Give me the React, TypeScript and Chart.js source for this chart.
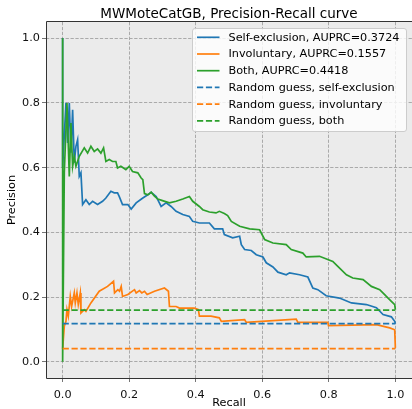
import React, { useEffect, useRef } from "react";
import { Chart, registerables } from "chart.js";

Chart.register(...registerables);

// ---------- data ----------
const recallSelf = [0, 0, 0.01, 0.015, 0.02, 0.025, 0.03, 0.035, 0.04, 0.045, 0.05, 0.055, 0.06, 0.07, 0.08, 0.09, 0.105, 0.12, 0.13, 0.145, 0.155, 0.165, 0.17, 0.18, 0.196, 0.206, 0.221, 0.241, 0.256, 0.266, 0.281, 0.296, 0.311, 0.326, 0.341, 0.361, 0.381, 0.391, 0.411, 0.441, 0.456, 0.481, 0.486, 0.511, 0.532, 0.537, 0.547, 0.567, 0.582, 0.602, 0.612, 0.632, 0.647, 0.672, 0.682, 0.712, 0.737, 0.752, 0.767, 0.792, 0.832, 0.868, 0.913, 0.943, 0.963, 0.988, 0.998, 1.0];
const precisionSelf = [1.0, 0.6, 0.8, 0.676, 0.8, 0.646, 0.779, 0.615, 0.666, 0.686, 0.573, 0.584, 0.486, 0.501, 0.486, 0.496, 0.486, 0.496, 0.506, 0.527, 0.522, 0.522, 0.511, 0.486, 0.486, 0.472, 0.491, 0.506, 0.516, 0.524, 0.511, 0.48, 0.491, 0.48, 0.465, 0.455, 0.449, 0.434, 0.429, 0.429, 0.411, 0.411, 0.393, 0.383, 0.388, 0.362, 0.347, 0.344, 0.331, 0.324, 0.306, 0.293, 0.277, 0.269, 0.275, 0.269, 0.262, 0.228, 0.223, 0.204, 0.197, 0.182, 0.177, 0.167, 0.146, 0.139, 0.125, 0.118];

const recallInvol = [0, 0.005, 0.01, 0.013, 0.017, 0.023, 0.027, 0.035, 0.038, 0.043, 0.047, 0.053, 0.055, 0.065, 0.07, 0.085, 0.11, 0.135, 0.153, 0.156, 0.166, 0.171, 0.176, 0.18, 0.196, 0.216, 0.221, 0.231, 0.238, 0.246, 0.254, 0.276, 0.306, 0.318, 0.321, 0.341, 0.351, 0.396, 0.408, 0.411, 0.446, 0.471, 0.477, 0.547, 0.552, 0.702, 0.707, 0.797, 0.799, 0.943, 0.983, 0.998, 1.0];
const precisionInvol = [0.04, 0.11, 0.125, 0.161, 0.141, 0.202, 0.171, 0.213, 0.182, 0.213, 0.177, 0.213, 0.151, 0.161, 0.156, 0.182, 0.218, 0.233, 0.249, 0.213, 0.223, 0.218, 0.233, 0.202, 0.208, 0.223, 0.213, 0.22, 0.213, 0.218, 0.208, 0.218, 0.228, 0.218, 0.171, 0.171, 0.166, 0.166, 0.161, 0.141, 0.141, 0.136, 0.125, 0.13, 0.122, 0.132, 0.122, 0.122, 0.112, 0.115, 0.105, 0.099, 0.043];

const recallBoth = [0, 0, 0.005, 0.013, 0.02, 0.025, 0.03, 0.035, 0.04, 0.05, 0.065, 0.075, 0.085, 0.095, 0.105, 0.115, 0.123, 0.13, 0.14, 0.15, 0.16, 0.165, 0.175, 0.19, 0.2, 0.21, 0.226, 0.236, 0.241, 0.246, 0.256, 0.266, 0.276, 0.286, 0.3, 0.321, 0.341, 0.361, 0.381, 0.391, 0.411, 0.421, 0.441, 0.461, 0.471, 0.486, 0.496, 0.507, 0.532, 0.562, 0.592, 0.602, 0.607, 0.632, 0.672, 0.687, 0.722, 0.732, 0.772, 0.812, 0.827, 0.853, 0.872, 0.903, 0.928, 0.953, 0.973, 0.988, 0.998, 1.0];
const precisionBoth = [1.0, 0.0, 0.584, 0.8, 0.573, 0.738, 0.604, 0.635, 0.604, 0.635, 0.661, 0.645, 0.666, 0.65, 0.658, 0.645, 0.661, 0.619, 0.625, 0.619, 0.619, 0.599, 0.604, 0.594, 0.604, 0.588, 0.584, 0.568, 0.563, 0.52, 0.516, 0.524, 0.512, 0.503, 0.498, 0.491, 0.496, 0.503, 0.511, 0.496, 0.48, 0.47, 0.463, 0.46, 0.465, 0.458, 0.452, 0.434, 0.419, 0.411, 0.408, 0.388, 0.378, 0.367, 0.362, 0.347, 0.336, 0.324, 0.326, 0.31, 0.295, 0.269, 0.259, 0.254, 0.233, 0.223, 0.202, 0.187, 0.177, 0.161];

const baselineSelf = 0.118;
const baselineInvol = 0.041;
const baselineBoth = 0.16;

const seriesLabels = [
  "Self-exclusion, AUPRC=0.3724",
  "Involuntary, AUPRC=0.1557",
  "Both, AUPRC=0.4418",
  "Random guess, self-exclusion",
  "Random guess, involuntary",
  "Random guess, both",
];
const seriesColors = ["#1f77b4", "#ff7f0e", "#2ca02c", "#1f77b4", "#ff7f0e", "#2ca02c"];
const seriesDashed = [false, false, false, true, true, true];

const xTicks = [0, 0.2, 0.4, 0.6, 0.8, 1.0];
const yTicks = [0, 0.2, 0.4, 0.6, 0.8, 1.0];

const titleText = "MWMoteCatGB, Precision-Recall curve";
const xTitle = "Recall";
const yTitle = "Precision";

const FONT = '"DejaVu Sans", sans-serif';
const LW = 1.7;
const DASH = [6.2, 2.7];

const decorPlugin = {
  id: "decor",
  beforeDraw(chart: any) {
    const { ctx, chartArea: a } = chart;
    ctx.save();
    ctx.fillStyle = "#ffffff";
    ctx.fillRect(0, 0, chart.width, chart.height);
    ctx.fillStyle = "#ebebeb";
    ctx.fillRect(a.left, a.top, a.right - a.left, a.bottom - a.top);
    ctx.restore();
  },
  afterDraw(chart: any) {
    const { ctx, chartArea: a } = chart;
    ctx.save();
    // frame
    ctx.strokeStyle = "#333333";
    ctx.lineWidth = 1;
    ctx.beginPath();
    ctx.moveTo(a.left + 0.5, a.top - 0.5);
    ctx.lineTo(a.right + 1, a.top - 0.5);
    ctx.moveTo(a.left + 0.5, a.top - 0.5);
    ctx.lineTo(a.left + 0.5, a.bottom + 0.5);
    ctx.lineTo(a.right + 1, a.bottom + 0.5);
    ctx.stroke();

    // title
    ctx.fillStyle = "#000000";
    ctx.font = `13.5px ${FONT}`;
    ctx.textAlign = "center";
    ctx.textBaseline = "alphabetic";
    ctx.fillText(titleText, (a.left + a.right) / 2, 18);

    // axis titles
    ctx.font = `11.25px ${FONT}`;
    ctx.textBaseline = "middle";
    ctx.fillText(xTitle, (a.left + a.right) / 2, 403);
    ctx.save();
    ctx.translate(12.5, (a.top + a.bottom) / 2);
    ctx.rotate(-Math.PI / 2);
    ctx.fillText(yTitle, 0, 0);
    ctx.restore();

    // legend
    const bx = 192.5, by = 28.5, bw = 214, bh = 103, r = 2.5;
    ctx.beginPath();
    ctx.moveTo(bx + r, by);
    ctx.lineTo(bx + bw - r, by);
    ctx.arcTo(bx + bw, by, bx + bw, by + r, r);
    ctx.lineTo(bx + bw, by + bh - r);
    ctx.arcTo(bx + bw, by + bh, bx + bw - r, by + bh, r);
    ctx.lineTo(bx + r, by + bh);
    ctx.arcTo(bx, by + bh, bx, by + bh - r, r);
    ctx.lineTo(bx, by + r);
    ctx.arcTo(bx, by, bx + r, by, r);
    ctx.closePath();
    ctx.fillStyle = "rgba(255,255,255,0.8)";
    ctx.fill();
    ctx.strokeStyle = "#cccccc";
    ctx.lineWidth = 1;
    ctx.stroke();

    ctx.font = `11.25px ${FONT}`;
    ctx.textAlign = "left";
    ctx.textBaseline = "middle";
    for (let i = 0; i < seriesLabels.length; i++) {
      const yy = 37.3 + i * 16.7;
      ctx.beginPath();
      ctx.strokeStyle = seriesColors[i];
      ctx.lineWidth = LW;
      ctx.setLineDash(seriesDashed[i] ? DASH : []);
      ctx.moveTo(197, yy);
      ctx.lineTo(219.5, yy);
      ctx.stroke();
      ctx.setLineDash([]);
      ctx.fillStyle = "#000000";
      ctx.fillText(seriesLabels[i], 228.5, yy + 0.5);
    }
    ctx.restore();
  },
};

export default function App() {
  const ref = useRef<HTMLCanvasElement>(null);
  useEffect(() => {
    const pts = (xs: number[], ys: number[]) => xs.map((x, i) => ({ x, y: ys[i] }));
    const flat = (v: number) => [{ x: 0, y: v }, { x: 1, y: v }];
    const allData = [
      pts(recallSelf, precisionSelf),
      pts(recallInvol, precisionInvol),
      pts(recallBoth, precisionBoth),
      flat(baselineSelf),
      flat(baselineInvol),
      flat(baselineBoth),
    ];
    const datasets = allData.map((d, i) => ({
      label: seriesLabels[i],
      data: d,
      borderColor: seriesColors[i],
      backgroundColor: seriesColors[i],
      borderWidth: LW,
      borderDash: seriesDashed[i] ? DASH : [],
      pointRadius: 0,
      tension: 0,
      fill: false,
      order: 10 - i,
    }));
    const tickFont = { family: FONT, size: 11.25 };
    const chart = new Chart(ref.current as HTMLCanvasElement, {
      type: "line",
      data: { datasets } as any,
      options: {
        responsive: false,
        animation: false,
        devicePixelRatio: 1,
        layout: { padding: { top: 22, right: 0, left: 0, bottom: 0 } },
        plugins: { legend: { display: false }, tooltip: { enabled: false }, title: { display: false } },
        scales: {
          x: {
            type: "linear",
            min: -0.05,
            max: 1.05,
            afterBuildTicks: (s: any) => { s.ticks = xTicks.map((v) => ({ value: v })); },
            afterFit: (s: any) => { s.height = 31; },
            ticks: { callback: (v: any) => Number(v).toFixed(1), font: tickFont, color: "#111", padding: 6, maxRotation: 0, autoSkip: false },
            grid: { color: "#a3a3a3", lineWidth: 0.9, tickLength: 4, tickColor: "#666", tickWidth: 0.9 },
            border: { display: false, dash: [3.3, 1.6] },
          },
          y: {
            type: "linear",
            min: -0.05,
            max: 1.05,
            afterBuildTicks: (s: any) => { s.ticks = yTicks.map((v) => ({ value: v })); },
            afterFit: (s: any) => { s.width = 46; },
            ticks: { callback: (v: any) => Number(v).toFixed(1), font: tickFont, color: "#111", padding: 2, autoSkip: false },
            grid: { color: "#a3a3a3", lineWidth: 0.9, tickLength: 4, tickColor: "#666", tickWidth: 0.9 },
            border: { display: false, dash: [3.3, 1.6] },
          },
        },
      } as any,
      plugins: [decorPlugin],
    });
    return () => chart.destroy();
  }, []);
  return (
    <div style={{ position: "absolute", left: 0, top: 0, width: 412, height: 409, background: "#fff" }}>
      <canvas ref={ref} width={412} height={409} style={{ display: "block", width: 412, height: 409 }} />
    </div>
  );
}
